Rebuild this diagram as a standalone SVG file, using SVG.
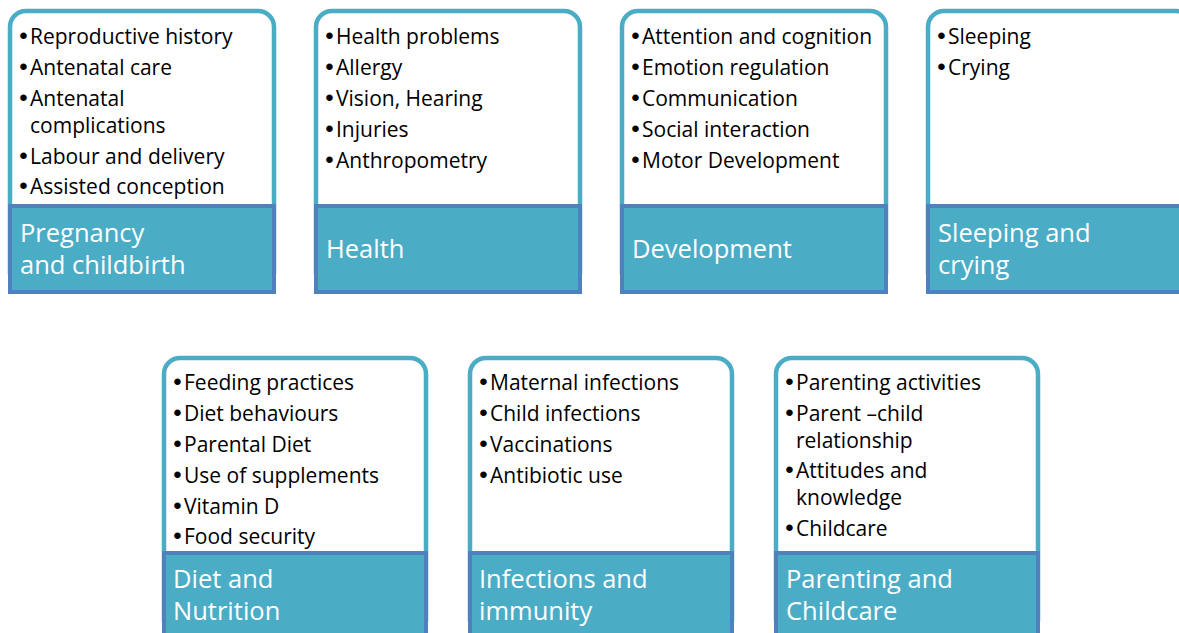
<svg xmlns="http://www.w3.org/2000/svg" width="1179" height="633" viewBox="0 0 1179 633">
<style>
.card{fill:#ffffff;stroke:#4bacc6;stroke-width:4.5}
.hdr{fill:#4bacc6;stroke:#4f81bd;stroke-width:4}
.it{font-family:"Open Sans","Liberation Sans",Arial,sans-serif;font-size:21px;fill:#000}
.b{font-family:"Liberation Sans",Arial,sans-serif;font-size:24px;text-anchor:middle}
.ht{font-family:"Open Sans","Liberation Sans",Arial,sans-serif;font-size:25.5px;fill:#ffffff}
</style>
<rect width="1179" height="633" fill="#ffffff"/>
<g id="pregnancy">
<rect class="card" x="10" y="11" width="264" height="278" rx="16"/>
<rect class="hdr" x="10" y="206" width="264" height="86"/>
<text class="it"><tspan class="b" x="23.5" y="44">•</tspan><tspan x="30">Reproductive history</tspan><tspan class="b" x="23.5" y="75">•</tspan><tspan x="30">Antenatal care</tspan><tspan class="b" x="23.5" y="106">•</tspan><tspan x="30">Antenatal</tspan><tspan x="30" y="133">complications</tspan><tspan class="b" x="23.5" y="164">•</tspan><tspan x="30">Labour and delivery</tspan><tspan class="b" x="23.5" y="194">•</tspan><tspan x="30">Assisted conception</tspan></text>
<text class="ht"><tspan x="20" y="242">Pregnancy</tspan><tspan x="20" y="274">and childbirth</tspan></text>
</g>
<g id="health">
<rect class="card" x="316" y="11" width="264" height="278" rx="16"/>
<rect class="hdr" x="316" y="206" width="264" height="86"/>
<text class="it"><tspan class="b" x="329.5" y="44">•</tspan><tspan x="336">Health problems</tspan><tspan class="b" x="329.5" y="75">•</tspan><tspan x="336">Allergy</tspan><tspan class="b" x="329.5" y="106">•</tspan><tspan x="336">Vision, Hearing</tspan><tspan class="b" x="329.5" y="137">•</tspan><tspan x="336">Injuries</tspan><tspan class="b" x="329.5" y="168">•</tspan><tspan x="336">Anthropometry</tspan></text>
<text class="ht"><tspan x="326" y="258">Health</tspan></text>
</g>
<g id="development">
<rect class="card" x="622" y="11" width="264" height="278" rx="16"/>
<rect class="hdr" x="622" y="206" width="264" height="86"/>
<text class="it"><tspan class="b" x="635.5" y="44">•</tspan><tspan x="642">Attention and cognition</tspan><tspan class="b" x="635.5" y="75">•</tspan><tspan x="642">Emotion regulation</tspan><tspan class="b" x="635.5" y="106">•</tspan><tspan x="642">Communication</tspan><tspan class="b" x="635.5" y="137">•</tspan><tspan x="642">Social interaction</tspan><tspan class="b" x="635.5" y="168">•</tspan><tspan x="642">Motor Development</tspan></text>
<text class="ht"><tspan x="632" y="258">Development</tspan></text>
</g>
<g id="sleeping">
<rect class="card" x="928" y="11" width="264" height="278" rx="16"/>
<rect class="hdr" x="928" y="206" width="264" height="86"/>
<text class="it"><tspan class="b" x="941.5" y="44">•</tspan><tspan x="948">Sleeping</tspan><tspan class="b" x="941.5" y="75">•</tspan><tspan x="948">Crying</tspan></text>
<text class="ht"><tspan x="938" y="242">Sleeping and</tspan><tspan x="938" y="274">crying</tspan></text>
</g>
<g id="diet">
<rect class="card" x="164" y="358" width="262" height="278" rx="16"/>
<rect class="hdr" x="164" y="553" width="262" height="86"/>
<text class="it"><tspan class="b" x="177.5" y="390">•</tspan><tspan x="184">Feeding practices</tspan><tspan class="b" x="177.5" y="421">•</tspan><tspan x="184">Diet behaviours</tspan><tspan class="b" x="177.5" y="452">•</tspan><tspan x="184">Parental Diet</tspan><tspan class="b" x="177.5" y="483">•</tspan><tspan x="184">Use of supplements</tspan><tspan class="b" x="177.5" y="514">•</tspan><tspan x="184">Vitamin D</tspan><tspan class="b" x="177.5" y="544">•</tspan><tspan x="184">Food security</tspan></text>
<text class="ht"><tspan x="173" y="588">Diet and</tspan><tspan x="173" y="620">Nutrition</tspan></text>
</g>
<g id="infections">
<rect class="card" x="470" y="358" width="262" height="278" rx="16"/>
<rect class="hdr" x="470" y="553" width="262" height="86"/>
<text class="it"><tspan class="b" x="483.5" y="390">•</tspan><tspan x="490">Maternal infections</tspan><tspan class="b" x="483.5" y="421">•</tspan><tspan x="490">Child infections</tspan><tspan class="b" x="483.5" y="452">•</tspan><tspan x="490">Vaccinations</tspan><tspan class="b" x="483.5" y="483">•</tspan><tspan x="490">Antibiotic use</tspan></text>
<text class="ht"><tspan x="479" y="588">Infections and</tspan><tspan x="479" y="620">immunity</tspan></text>
</g>
<g id="parenting">
<rect class="card" x="776" y="358" width="262" height="278" rx="16"/>
<rect class="hdr" x="776" y="553" width="262" height="86"/>
<text class="it"><tspan class="b" x="789.5" y="390">•</tspan><tspan x="796">Parenting activities</tspan><tspan class="b" x="789.5" y="421">•</tspan><tspan x="796">Parent –child</tspan><tspan x="796" y="448">relationship</tspan><tspan class="b" x="789.5" y="478">•</tspan><tspan x="796">Attitudes and</tspan><tspan x="796" y="505">knowledge</tspan><tspan class="b" x="789.5" y="536">•</tspan><tspan x="796">Childcare</tspan></text>
<text class="ht"><tspan x="786" y="588">Parenting and</tspan><tspan x="786" y="620">Childcare</tspan></text>
</g>
<g id="connectors"></g>
</svg>
